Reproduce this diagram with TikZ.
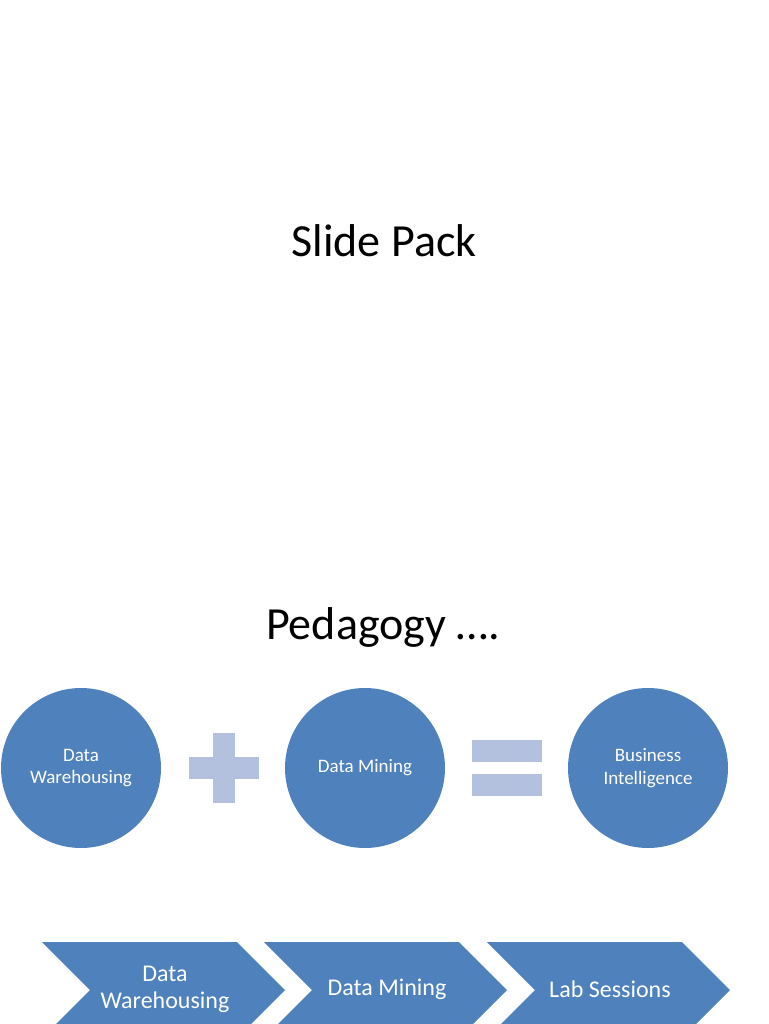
\documentclass[tikz,border=0pt]{standalone}
\usepackage{fontspec}
\setmainfont{Carlito}
\definecolor{shapeblue}{HTML}{4F81BD}
\definecolor{opblue}{HTML}{B3C1DE}
\begin{document}
\begin{tikzpicture}[x=1pt,y=-1pt]
                \tikzset{disc/.style={circle, fill=shapeblue, minimum size=160pt, inner sep=0pt,
                text=white, align=center, font=\fontsize{19}{22.5}\selectfont},
                chev/.style={fill=shapeblue},
                chevtext/.style={text=white, align=center, font=\fontsize{24}{27}\selectfont},
                op/.style={fill=opblue},
                heading/.style={font=\fontsize{46}{50}\selectfont}}

                \useasboundingbox (0,0) rectangle (768,1024);
                \clip (0,0) rectangle (768,1024);

                \node[heading] (slidepack) at (384,241) {Slide Pack};
                \node[heading] (pedagogy) at (383,627) {Pedagogy ….};

                \node[disc] (dw) at (81,768) {Data\\Warehousing};
                \node[disc] (dm) at (365,768) {Data Mining};
                \node[disc] (bi) at (648,768) {Business\\Intelligence};

                % plus and equals
                \fill[op] (188.5,757) rectangle (258.5,779);
                \fill[op] (212.5,733) rectangle (234.5,803);
                \fill[op] (472,740) rectangle (542,762);
                \fill[op] (472,774) rectangle (542,796);

                \begin{scope}[xshift=42pt]
                    \fill[chev] (0,942) -- (195,942) -- (243,990) -- (195,1038) -- (0,1038) -- (48,990) -- cycle;
                    \node[chevtext] (stepdw) at (123,989) {Data\\Warehousing};
                \end{scope}
                \begin{scope}[xshift=264pt]
                    \fill[chev] (0,942) -- (195,942) -- (243,990) -- (195,1038) -- (0,1038) -- (48,990) -- cycle;
                    \node[chevtext] (stepdm) at (123,989) {Data Mining};
                \end{scope}
                \begin{scope}[xshift=487pt]
                    \fill[chev] (0,942) -- (195,942) -- (243,990) -- (195,1038) -- (0,1038) -- (48,990) -- cycle;
                    \node[chevtext] (steplab) at (123,989) {Lab Sessions};
                \end{scope}
            \end{tikzpicture}
\end{document}
